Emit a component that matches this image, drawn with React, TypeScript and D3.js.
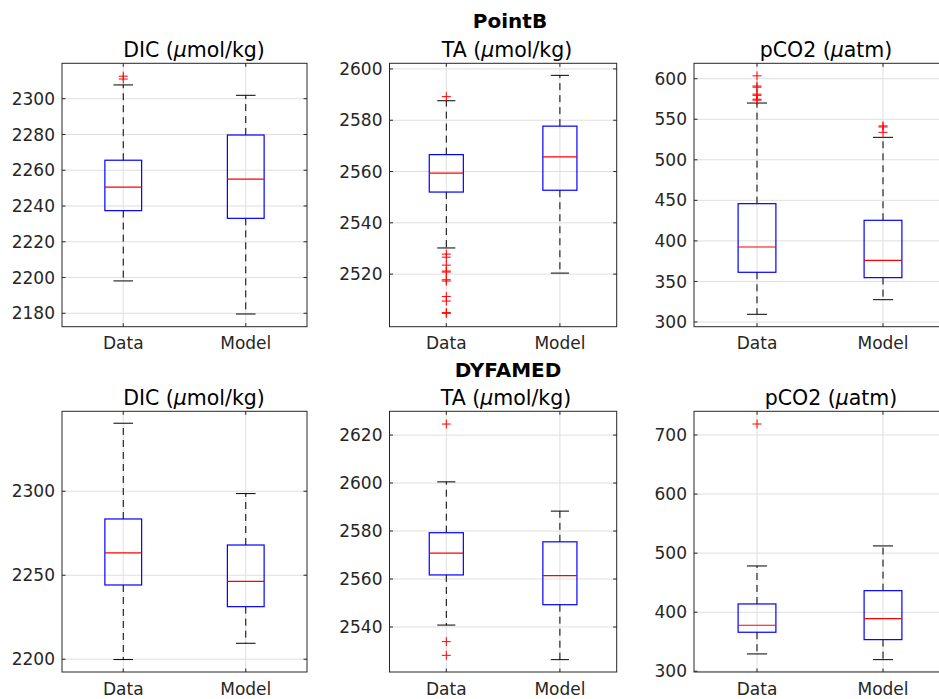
import React from "react";
import * as d3 from "d3";

const categories = ["Data", "Model"];
const stationTitles = ["PointB", "DYFAMED"];
const variablePrefix = ["DIC (", "TA (", "pCO2 ("];
const variableUnit = ["mol/kg)", "mol/kg)", "atm)"];

// box stats: [lower whisker, Q1, median, Q3, upper whisker]
const pointbDicData = [2198.1, 2237.4, 2250.6, 2265.6, 2307.7];
const pointbDicModel = [2179.6, 2233.1, 2255.0, 2279.7, 2301.9];
const pointbTaData = [2530.2, 2552.0, 2559.4, 2566.6, 2587.6];
const pointbTaModel = [2520.4, 2552.7, 2565.7, 2577.7, 2597.5];
const pointbPco2Data = [309.5, 361.3, 392.5, 445.9, 570.0];
const pointbPco2Model = [327.5, 354.7, 376.1, 425.4, 527.7];
const dyfamedDicData = [2199.8, 2244.2, 2263.3, 2283.5, 2340.5];
const dyfamedDicModel = [2209.5, 2231.3, 2246.4, 2268.0, 2298.6];
const dyfamedTaData = [2540.8, 2561.7, 2570.8, 2579.3, 2600.5];
const dyfamedTaModel = [2526.4, 2549.3, 2561.4, 2575.5, 2588.3];
const dyfamedPco2Data = [329.4, 366.1, 377.9, 414.0, 478.3];
const dyfamedPco2Model = [319.7, 353.6, 389.2, 436.5, 512.2];

// outliers
const pointbDicDataOut = [2312.6, 2311.0];
const pointbDicModelOut: number[] = [];
const pointbTaDataOut = [2589.2, 2527.8, 2526.6, 2523.5, 2521.2, 2520.8, 2517.8, 2517.3, 2511.3, 2509.5, 2505.0, 2504.7];
const pointbTaModelOut: number[] = [];
const pointbPco2DataOut = [603.5, 591.0, 589.5, 581.0, 579.5, 574.8, 573.5];
const pointbPco2ModelOut = [541.8, 540.5, 533.9];
const dyfamedDicDataOut: number[] = [];
const dyfamedDicModelOut: number[] = [];
const dyfamedTaDataOut = [2624.6, 2533.9, 2528.2];
const dyfamedTaModelOut: number[] = [];
const dyfamedPco2DataOut = [718.6];
const dyfamedPco2ModelOut: number[] = [];

// y ticks
const pointbDicTicks = [2180, 2200, 2220, 2240, 2260, 2280, 2300];
const pointbTaTicks = [2520, 2540, 2560, 2580, 2600];
const pointbPco2Ticks = [300, 350, 400, 450, 500, 550, 600];
const dyfamedDicTicks = [2200, 2250, 2300];
const dyfamedTaTicks = [2540, 2560, 2580, 2600, 2620];
const dyfamedPco2Ticks = [300, 400, 500, 600, 700];

// y limits
const pointbDicLim = [2172.5, 2319.8];
const pointbTaLim = [2499.5, 2602.2];
const pointbPco2Lim = [294.2, 619.0];
const dyfamedDicLim = [2192.4, 2347.6];
const dyfamedTaLim = [2521.25, 2629.9];
const dyfamedPco2Lim = [298.8, 740.1];

const panels = [
  [
    { stats: [pointbDicData, pointbDicModel], out: [pointbDicDataOut, pointbDicModelOut], ticks: pointbDicTicks, lim: pointbDicLim },
    { stats: [pointbTaData, pointbTaModel], out: [pointbTaDataOut, pointbTaModelOut], ticks: pointbTaTicks, lim: pointbTaLim },
    { stats: [pointbPco2Data, pointbPco2Model], out: [pointbPco2DataOut, pointbPco2ModelOut], ticks: pointbPco2Ticks, lim: pointbPco2Lim },
  ],
  [
    { stats: [dyfamedDicData, dyfamedDicModel], out: [dyfamedDicDataOut, dyfamedDicModelOut], ticks: dyfamedDicTicks, lim: dyfamedDicLim },
    { stats: [dyfamedTaData, dyfamedTaModel], out: [dyfamedTaDataOut, dyfamedTaModelOut], ticks: dyfamedTaTicks, lim: dyfamedTaLim },
    { stats: [dyfamedPco2Data, dyfamedPco2Model], out: [dyfamedPco2DataOut, dyfamedPco2ModelOut], ticks: dyfamedPco2Ticks, lim: dyfamedPco2Lim },
  ],
];

// layout
const W = 939;
const H = 699;
const colX = [[62, 307], [389.5, 616.7], [694, 946]];
const rowY = [[63.3, 326.7], [411.3, 672]];
const titleX = [[194, 507, 826], [194, 506, 831]];
const supX = [510, 508];
const supY = [28.3, 376.7];

const FONT = "'DejaVu Sans', sans-serif";
const AXC = "#262626";
const GRID = "#dfdfdf";

function Panel({ r, c }: { r: number; c: number }) {
  const p = panels[r][c];
  const [x0, x1] = colX[c];
  const [y0, y1] = rowY[r];
  const x = d3.scaleLinear().domain([0.5, 2.5]).range([x0, x1]);
  const y = d3.scaleLinear().domain(p.lim).range([y1, y0]);
  const unit = x(1) - x(0);
  const boxW = 0.3 * unit;
  const capW = 0.16 * unit;
  const tl = 3.5;
  return (
    <g>
      {/* grid */}
      {p.ticks.map((t) => (
        <line key={"gy" + t} x1={x0} x2={x1} y1={y(t)} y2={y(t)} stroke={GRID} strokeWidth={1} />
      ))}
      {categories.map((_, i) => (
        <line key={"gx" + i} x1={x(i + 1)} x2={x(i + 1)} y1={y0} y2={y1} stroke={GRID} strokeWidth={1} />
      ))}
      {/* boxes */}
      {p.stats.map((s, i) => {
        const cx = x(i + 1);
        return (
          <g key={"b" + i}>
            <line x1={cx} x2={cx} y1={y(s[3])} y2={y(s[4])} stroke="#000" strokeWidth={1} strokeDasharray="7,5" />
            <line x1={cx} x2={cx} y1={y(s[1])} y2={y(s[0])} stroke="#000" strokeWidth={1} strokeDasharray="7,5" />
            <line x1={cx - capW / 2} x2={cx + capW / 2} y1={y(s[4])} y2={y(s[4])} stroke="#000" strokeWidth={1} />
            <line x1={cx - capW / 2} x2={cx + capW / 2} y1={y(s[0])} y2={y(s[0])} stroke="#000" strokeWidth={1} />
            <rect x={cx - boxW / 2} y={y(s[3])} width={boxW} height={y(s[1]) - y(s[3])} fill="none" stroke="#0000ff" strokeWidth={1.2} />
            <line x1={cx - boxW / 2} x2={cx + boxW / 2} y1={y(s[2])} y2={y(s[2])} stroke="#ff0000" strokeWidth={1.2} />
            {p.out[i].map((v, k) => (
              <g key={"o" + k} stroke="#ff0000" strokeWidth={1}>
                <line x1={cx - 4.5} x2={cx + 4.5} y1={y(v)} y2={y(v)} />
                <line x1={cx} x2={cx} y1={y(v) - 4.5} y2={y(v) + 4.5} />
              </g>
            ))}
          </g>
        );
      })}
      {/* frame */}
      <rect x={x0} y={y0} width={x1 - x0} height={y1 - y0} fill="none" stroke={AXC} strokeWidth={1} />
      {/* y ticks */}
      {p.ticks.map((t) => (
        <g key={"ty" + t}>
          <line x1={x0} x2={x0 + tl} y1={y(t)} y2={y(t)} stroke={AXC} />
          <line x1={x1} x2={x1 - tl} y1={y(t)} y2={y(t)} stroke={AXC} />
          <text x={x0 - 7} y={y(t)} dy="0.36em" textAnchor="end" fontFamily={FONT} fontSize={17} fill={AXC}>
            {t}
          </text>
        </g>
      ))}
      {/* x ticks */}
      {categories.map((cat, i) => (
        <g key={"tx" + i}>
          <line x1={x(i + 1)} x2={x(i + 1)} y1={y1} y2={y1 - tl} stroke={AXC} />
          <line x1={x(i + 1)} x2={x(i + 1)} y1={y0} y2={y0 + tl} stroke={AXC} />
          <text x={x(i + 1)} y={y1 + 22.6} textAnchor="middle" fontFamily={FONT} fontSize={17} fill={AXC}>
            {cat}
          </text>
        </g>
      ))}
      {/* title */}
      <text x={titleX[r][c]} y={y0 - 6.6} textAnchor="middle" fontFamily={FONT} fontSize={20.5} fill="#000">
        {variablePrefix[c]}
        <tspan fontStyle="italic">μ</tspan>
        {variableUnit[c]}
      </text>
    </g>
  );
}

export default function App() {
  return (
    <svg width={W} height={H} style={{ position: "absolute", left: 0, top: 0, background: "#fff" }}>
      <rect x={0} y={0} width={W} height={H} fill="#fff" />
      {[0, 1].map((r) => (
        <g key={r}>
          {[0, 1, 2].map((c) => (
            <Panel key={c} r={r} c={c} />
          ))}
          <text x={supX[r]} y={supY[r]} textAnchor="middle" fontFamily={FONT} fontSize={20} fontWeight="bold" fill="#000">
            {stationTitles[r]}
          </text>
        </g>
      ))}
    </svg>
  );
}
